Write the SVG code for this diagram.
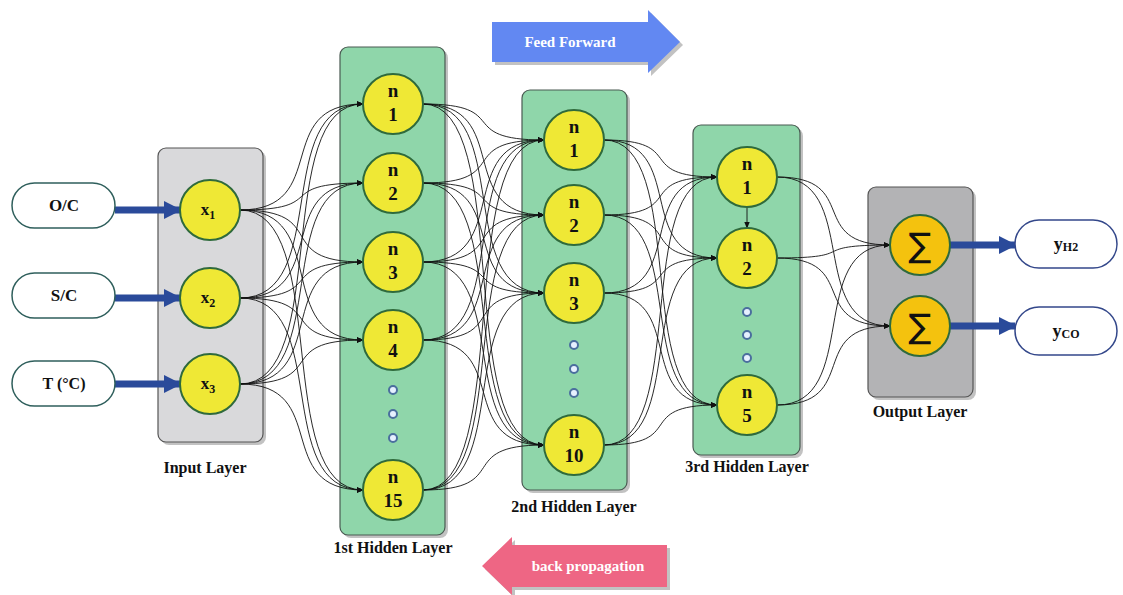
<svg xmlns="http://www.w3.org/2000/svg" width="1123" height="595" viewBox="0 0 1123 595">
<style>
text{font-family:"Liberation Serif","Times New Roman",serif;font-weight:bold;fill:#111}
.lbl{font-size:16px;text-anchor:middle}
.nd{font-size:19px;text-anchor:middle}
.pill{fill:#fff;stroke:#2f5f5c;stroke-width:1.5}
.opill{fill:#fff;stroke:#33478a;stroke-width:1.5}
.neuron{fill:#efe835;stroke:#2f6a3c;stroke-width:2}
.sum{fill:#f4c20e;stroke:#2f6a3c;stroke-width:2}
.green{fill:#8fd6aa;stroke:#4a5a52;stroke-width:1.2}
.grey{fill:#d9d9db;stroke:#555;stroke-width:1.2}
.dgrey{fill:#b3b3b5;stroke:#555;stroke-width:1.2}
.shadow{fill:#9a9a9a;opacity:0.6}
.dot{fill:#e6f0ff;stroke:#4a6e9e;stroke-width:2}
.conn path{fill:none;stroke:#111;stroke-width:0.9;marker-end:url(#ah)}
.conn path.big{stroke:#2a4a9a;stroke-width:7;marker-end:url(#bh)}
</style>
<defs>
<marker id="ah" viewBox="0 0 10 10" refX="9" refY="5" markerWidth="7" markerHeight="7" markerUnits="userSpaceOnUse" orient="auto"><path d="M0,1 L10,5 L0,9 Z" fill="#111"/></marker>
<marker id="bh" viewBox="0 0 10 10" refX="9" refY="5" markerWidth="18" markerHeight="19" markerUnits="userSpaceOnUse" orient="auto"><path d="M0,0 L10,5 L0,10 Z" fill="#2a4a9a"/></marker>
</defs>
<rect width="1123" height="595" fill="#fff"/>

<g id="feed-forward">
<polygon class="shadow" points="495,25 651,25 651,13 683,45 651,76 651,65 495,65"/>
<polygon points="492,22 648,22 648,10 680,42 648,73 648,62 492,62" fill="#6288f2"/>
<text x="570" y="47" style="font-size:15px;fill:#fff;text-anchor:middle">Feed Forward</text>
</g>
<g id="back-propagation">
<polygon class="shadow" points="670,548 515,548 515,540 485,569 515,598 515,590 670,590"/>
<polygon points="667,545 512,545 512,537 482,566 512,595 512,587 667,587" fill="#ee6684"/>
<text x="588" y="571" style="font-size:15px;fill:#fff;text-anchor:middle">back propagation</text>
</g>

<g id="input-layer">
<rect class="shadow" x="161" y="151" width="105" height="294" rx="8"/>
<rect class="grey" x="158" y="148" width="105" height="294" rx="8"/>
<text class="lbl" x="205" y="473">Input Layer</text>
</g>
<g id="hidden-layer-1">
<rect class="shadow" x="343" y="50" width="105" height="488" rx="8"/>
<rect class="green" x="340" y="47" width="105" height="488" rx="8"/>
<text class="lbl" x="393" y="553">1st Hidden Layer</text>
</g>
<g id="hidden-layer-2">
<rect class="shadow" x="525" y="93" width="105" height="400" rx="8"/>
<rect class="green" x="522" y="90" width="105" height="400" rx="8"/>
<text class="lbl" x="574" y="512">2nd Hidden Layer</text>
</g>
<g id="hidden-layer-3">
<rect class="shadow" x="696" y="128" width="107" height="330" rx="8"/>
<rect class="green" x="693" y="125" width="107" height="330" rx="8"/>
<text class="lbl" x="747" y="472">3rd Hidden Layer</text>
</g>
<g id="output-layer">
<rect class="shadow" x="871" y="190" width="105" height="210" rx="8"/>
<rect class="dgrey" x="868" y="187" width="105" height="210" rx="8"/>
<text class="lbl" x="920" y="417">Output Layer</text>
</g>

<g id="connectors" class="conn">
<path d="M240 210 C332 210 271 104 363 104"/>
<path d="M240 210 C332 210 271 183 363 183"/>
<path d="M240 210 C332 210 271 262 363 262"/>
<path d="M240 210 C332 210 271 340 363 340"/>
<path d="M240 210 C332 210 271 490 363 490"/>
<path d="M240 298 C332 298 271 104 363 104"/>
<path d="M240 298 C332 298 271 183 363 183"/>
<path d="M240 298 C332 298 271 262 363 262"/>
<path d="M240 298 C332 298 271 340 363 340"/>
<path d="M240 298 C332 298 271 490 363 490"/>
<path d="M240 384 C332 384 271 104 363 104"/>
<path d="M240 384 C332 384 271 183 363 183"/>
<path d="M240 384 C332 384 271 262 363 262"/>
<path d="M240 384 C332 384 271 340 363 340"/>
<path d="M240 384 C332 384 271 490 363 490"/>

<path d="M423 104 C514 104 453 140 544 140"/>
<path d="M423 104 C514 104 453 215 544 215"/>
<path d="M423 104 C514 104 453 293 544 293"/>
<path d="M423 104 C514 104 453 445 544 445"/>
<path d="M423 183 C514 183 453 140 544 140"/>
<path d="M423 183 C514 183 453 215 544 215"/>
<path d="M423 183 C514 183 453 293 544 293"/>
<path d="M423 183 C514 183 453 445 544 445"/>
<path d="M423 262 C514 262 453 140 544 140"/>
<path d="M423 262 C514 262 453 215 544 215"/>
<path d="M423 262 C514 262 453 293 544 293"/>
<path d="M423 262 C514 262 453 445 544 445"/>
<path d="M423 340 C514 340 453 140 544 140"/>
<path d="M423 340 C514 340 453 215 544 215"/>
<path d="M423 340 C514 340 453 293 544 293"/>
<path d="M423 340 C514 340 453 445 544 445"/>
<path d="M423 490 C514 490 453 140 544 140"/>
<path d="M423 490 C514 490 453 215 544 215"/>
<path d="M423 490 C514 490 453 293 544 293"/>
<path d="M423 490 C514 490 453 445 544 445"/>

<path d="M604 140 C689 140 632 177 717 177"/>
<path d="M604 140 C689 140 632 258 717 258"/>
<path d="M604 140 C689 140 632 405 717 405"/>
<path d="M604 215 C689 215 632 177 717 177"/>
<path d="M604 215 C689 215 632 258 717 258"/>
<path d="M604 215 C689 215 632 405 717 405"/>
<path d="M604 293 C689 293 632 177 717 177"/>
<path d="M604 293 C689 293 632 258 717 258"/>
<path d="M604 293 C689 293 632 405 717 405"/>
<path d="M604 445 C689 445 632 177 717 177"/>
<path d="M604 445 C689 445 632 258 717 258"/>
<path d="M604 445 C689 445 632 405 717 405"/>

<path d="M777 177 C862 177 805 245 890 245"/>
<path d="M777 177 C862 177 805 326 890 326"/>
<path d="M777 258 C862 258 805 245 890 245"/>
<path d="M777 258 C862 258 805 326 890 326"/>
<path d="M777 405 C862 405 805 245 890 245"/>
<path d="M777 405 C862 405 805 326 890 326"/>

<path d="M747 207 L747 228"/>

<path class="big" d="M115 210 L180 210"/>
<path class="big" d="M115 298 L180 298"/>
<path class="big" d="M115 384 L180 384"/>
<path class="big" d="M950 245 L1015 245"/>
<path class="big" d="M950 326 L1015 326"/>
</g>

<g id="in-oc"><rect class="pill" x="12" y="183" width="103" height="45" rx="22.5"/><text x="64" y="211" style="font-size:17px;text-anchor:middle">O/C</text></g>
<g id="in-sc"><rect class="pill" x="12" y="273" width="103" height="45" rx="22.5"/><text x="64" y="301" style="font-size:17px;text-anchor:middle">S/C</text></g>
<g id="in-t"><rect class="pill" x="12" y="361" width="103" height="45" rx="22.5"/><text x="64" y="389" style="font-size:16px;text-anchor:middle">T (°C)</text></g>

<g id="x1"><circle class="neuron" cx="210" cy="210" r="30"/><text x="208" y="215" style="font-size:17px;text-anchor:middle">x<tspan dy="4" style="font-size:12px">1</tspan></text></g>
<g id="x2"><circle class="neuron" cx="210" cy="298" r="30"/><text x="208" y="303" style="font-size:17px;text-anchor:middle">x<tspan dy="4" style="font-size:12px">2</tspan></text></g>
<g id="x3"><circle class="neuron" cx="210" cy="384" r="30"/><text x="208" y="389" style="font-size:17px;text-anchor:middle">x<tspan dy="4" style="font-size:12px">3</tspan></text></g>

<g id="h1-n1"><circle class="neuron" cx="393" cy="104" r="30"/><text class="nd" x="393" y="97">n</text><text class="nd" x="393" y="121">1</text></g>
<g id="h1-n2"><circle class="neuron" cx="393" cy="183" r="30"/><text class="nd" x="393" y="176">n</text><text class="nd" x="393" y="200">2</text></g>
<g id="h1-n3"><circle class="neuron" cx="393" cy="262" r="30"/><text class="nd" x="393" y="255">n</text><text class="nd" x="393" y="279">3</text></g>
<g id="h1-n4"><circle class="neuron" cx="393" cy="340" r="30"/><text class="nd" x="393" y="333">n</text><text class="nd" x="393" y="357">4</text></g>
<g id="h1-dots"><circle class="dot" cx="393" cy="390" r="4"/><circle class="dot" cx="393" cy="414" r="4"/><circle class="dot" cx="393" cy="438" r="4"/></g>
<g id="h1-n15"><circle class="neuron" cx="393" cy="490" r="30"/><text class="nd" x="393" y="483">n</text><text class="nd" x="393" y="507">15</text></g>

<g id="h2-n1"><circle class="neuron" cx="574" cy="140" r="30"/><text class="nd" x="574" y="133">n</text><text class="nd" x="574" y="157">1</text></g>
<g id="h2-n2"><circle class="neuron" cx="574" cy="215" r="30"/><text class="nd" x="574" y="208">n</text><text class="nd" x="574" y="232">2</text></g>
<g id="h2-n3"><circle class="neuron" cx="574" cy="293" r="30"/><text class="nd" x="574" y="286">n</text><text class="nd" x="574" y="310">3</text></g>
<g id="h2-dots"><circle class="dot" cx="574" cy="345" r="4"/><circle class="dot" cx="574" cy="369" r="4"/><circle class="dot" cx="574" cy="393" r="4"/></g>
<g id="h2-n10"><circle class="neuron" cx="574" cy="445" r="30"/><text class="nd" x="574" y="438">n</text><text class="nd" x="574" y="462">10</text></g>

<g id="h3-n1"><circle class="neuron" cx="747" cy="177" r="30"/><text class="nd" x="747" y="170">n</text><text class="nd" x="747" y="194">1</text></g>
<g id="h3-n2"><circle class="neuron" cx="747" cy="258" r="30"/><text class="nd" x="747" y="251">n</text><text class="nd" x="747" y="275">2</text></g>
<g id="h3-dots"><circle class="dot" cx="747" cy="312" r="4"/><circle class="dot" cx="747" cy="335" r="4"/><circle class="dot" cx="747" cy="358" r="4"/></g>
<g id="h3-n5"><circle class="neuron" cx="747" cy="405" r="30"/><text class="nd" x="747" y="398">n</text><text class="nd" x="747" y="422">5</text></g>

<g id="out-1"><circle class="sum" cx="920" cy="245" r="30"/><text x="920" y="257" style="font-size:34px;font-weight:normal;text-anchor:middle;font-family:'DejaVu Sans',sans-serif">∑</text></g>
<g id="out-2"><circle class="sum" cx="920" cy="326" r="30"/><text x="920" y="338" style="font-size:34px;font-weight:normal;text-anchor:middle;font-family:'DejaVu Sans',sans-serif">∑</text></g>

<g id="y-h2"><rect class="opill" x="1015" y="220" width="102" height="48" rx="24"/><text x="1066" y="250" style="font-size:18px;text-anchor:middle">y<tspan style="font-size:12px" dy="1">H2</tspan></text></g>
<g id="y-co"><rect class="opill" x="1015" y="307" width="102" height="48" rx="24"/><text x="1066" y="337" style="font-size:18px;text-anchor:middle">y<tspan style="font-size:12px" dy="1">CO</tspan></text></g>
</svg>
